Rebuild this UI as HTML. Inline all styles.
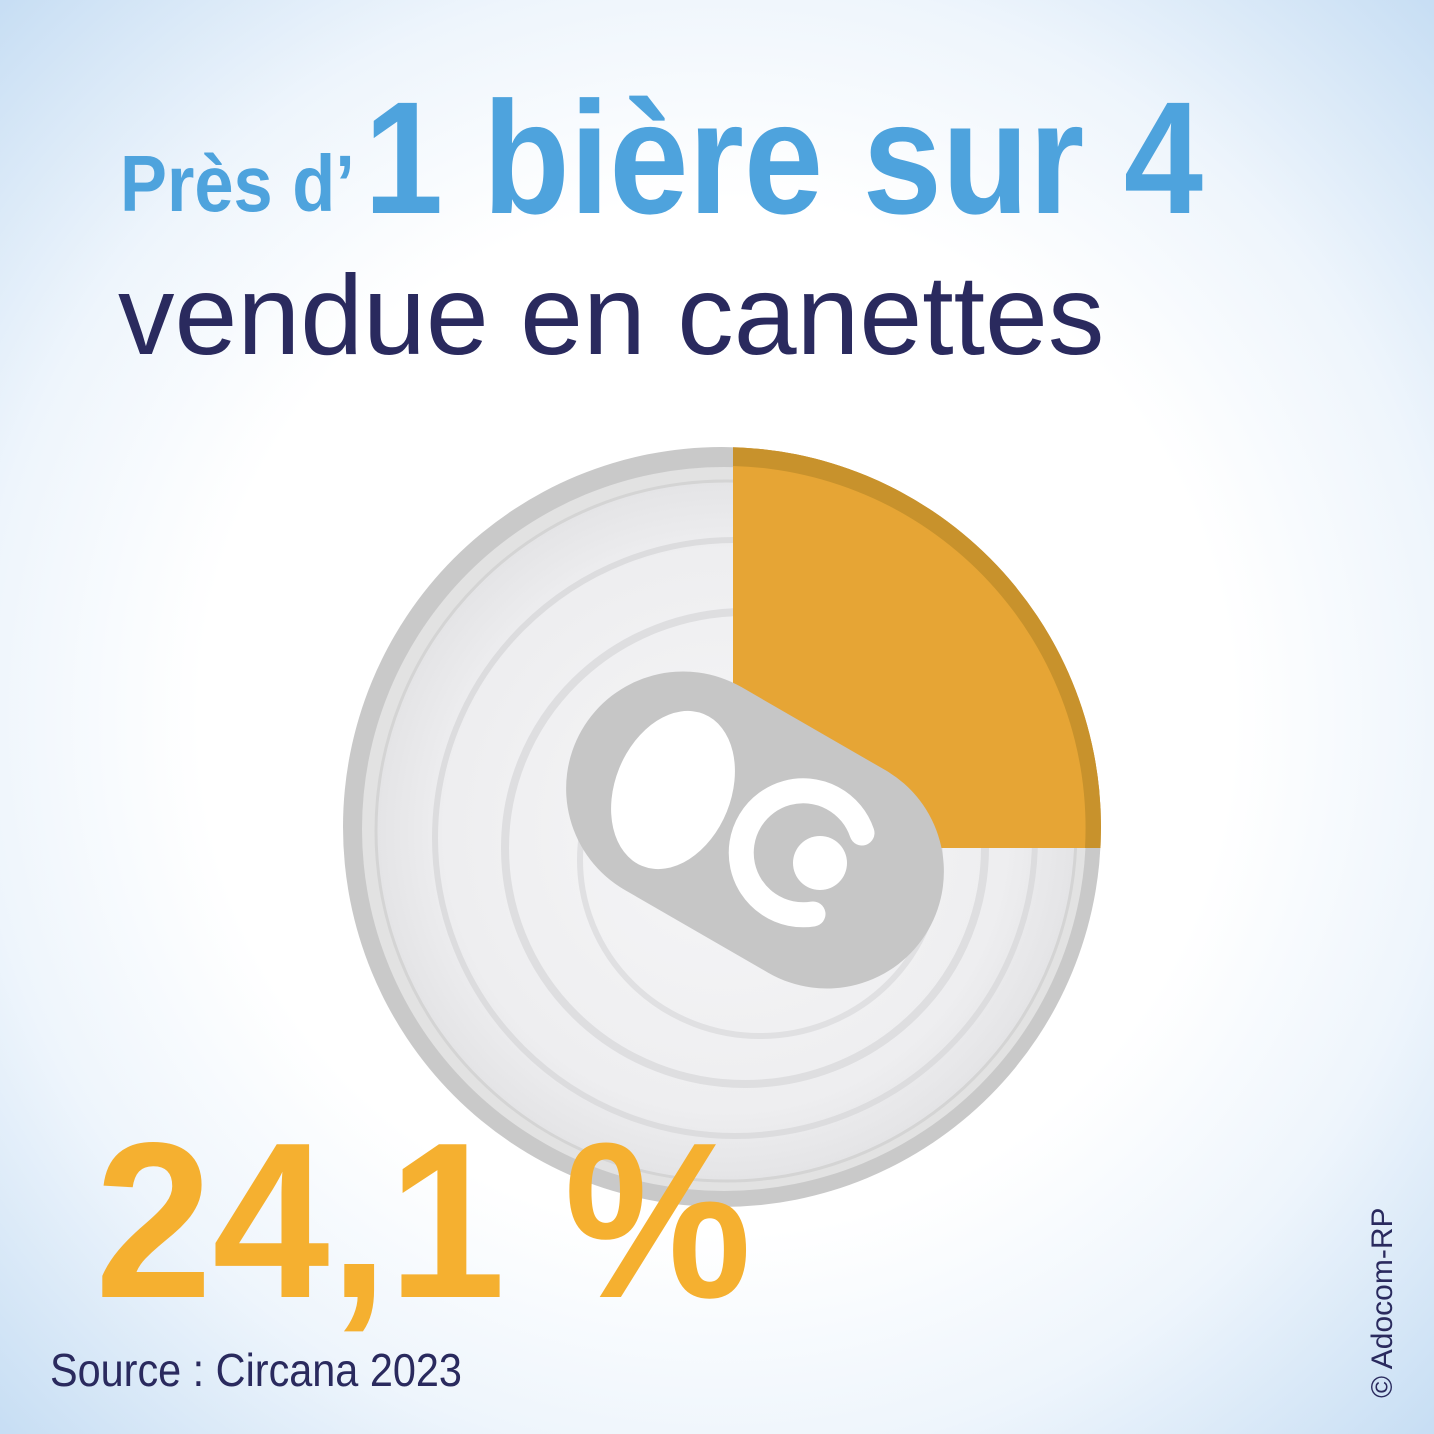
<!DOCTYPE html>
<html><head><meta charset="utf-8"><style>
html,body{margin:0;padding:0;}
body{width:1434px;height:1434px;overflow:hidden;background:radial-gradient(ellipse 72% 72% at 50% 50%,#ffffff 50%,#eef5fc 72%,#c4dcf3 100%);font-family:"Liberation Sans",sans-serif;position:relative;}
.t{position:absolute;white-space:nowrap;transform-origin:0 0;}
</style></head><body>
<svg width="1434" height="1434" style="position:absolute;left:0;top:0">
<defs>
<clipPath id="cc"><ellipse cx="722" cy="827" rx="379" ry="380"/></clipPath>
<radialGradient id="lid" cx="50%" cy="50%" r="50%">
<stop offset="0" stop-color="#f6f6f7"/><stop offset="0.8" stop-color="#eeeef0"/><stop offset="1" stop-color="#e4e4e6"/></radialGradient>
</defs>
<ellipse cx="722" cy="827" rx="379" ry="380" fill="#c9c9c9"/>
<ellipse cx="724" cy="829" rx="362" ry="362" fill="#e2e2e2"/>
<ellipse cx="726" cy="831" rx="350" ry="350" fill="url(#lid)" stroke="#d4d4d4" stroke-width="3"/>
<ellipse cx="735" cy="838" rx="300" ry="298" fill="none" stroke="#dcdcde" stroke-width="6"/>
<ellipse cx="745" cy="848" rx="240" ry="236" fill="none" stroke="#dedee0" stroke-width="8"/>
<ellipse cx="760" cy="860" rx="180" ry="176" fill="none" stroke="#e0e0e2" stroke-width="6"/>
<g clip-path="url(#cc)">
<rect x="733" y="440" width="380" height="408" fill="#e6a535"/>
<path d="M733 447 A379 380 0 0 1 1101 848 L1085 848 A362 362 0 0 0 733 466 Z" fill="#c8922c"/>
</g>
<g transform="rotate(30 755 830)">
<rect x="555" y="713" width="400" height="234" rx="117" fill="#c6c6c6"/>
</g>
<ellipse cx="673" cy="790" rx="58" ry="82" transform="rotate(22 673 790)" fill="#fff"/>
<path d="M862 833 A62 62 0 1 0 813 914" fill="none" stroke="#fff" stroke-width="25" stroke-linecap="round"/>
<circle cx="820" cy="863" r="27" fill="#fff"/>
</svg>
<div class="t" style="left:120px;top:138px;font-size:80px;font-weight:bold;color:#4ea3dd;transform:scaleX(0.88);">Près d’</div>
<div class="t" style="left:364px;top:66px;font-size:160px;font-weight:bold;color:#4ea3dd;transform:scaleX(0.89);">1 bière sur 4</div>
<div class="t" style="left:118px;top:250px;font-size:113px;color:#2a2a5e;">vendue en canettes</div>
<div class="t" style="left:95px;top:1094px;font-size:222px;font-weight:bold;color:#f5b030;transform:scaleX(0.95);">24,1 %</div>
<div class="t" style="left:50px;top:1343px;font-size:46px;color:#2a2a5e;transform:scaleX(0.9);">Source : Circana 2023</div>
<div class="t" style="left:1366px;top:1398px;font-size:30px;color:#2a2a5e;transform:rotate(-90deg);">© Adocom-RP</div>
</body></html>
